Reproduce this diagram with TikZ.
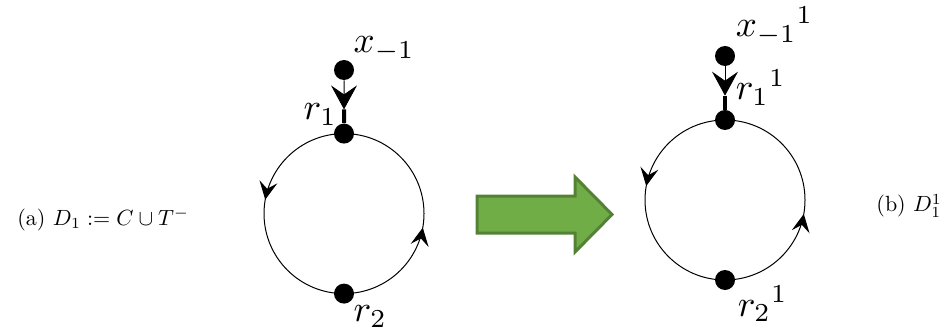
\documentclass[tikz,border=0pt]{standalone}
\usetikzlibrary{arrows.meta, calc, decorations.markings}
\definecolor{arrowgreen}{RGB}{112,173,71}
\definecolor{arrowedge}{RGB}{84,130,53}
\tikzset{
  dot/.style={circle, fill=black, inner sep=0pt, minimum size=10pt},
  lbl/.style={anchor=base west, inner sep=0pt, scale=1.85, transform shape},
  subcap/.style={anchor=base west, inner sep=0pt, scale=1.1, transform shape},
  tailtip/.style={-{Stealth[length=12pt, width=13pt, inset=4.5pt]}},
  orient/.style={postaction={decorate}, decoration={markings,
      mark=at position 0.472 with {\arrow{Stealth[length=9pt, width=9pt, inset=3.5pt]}},
      mark=at position 0.972 with {\arrow{Stealth[length=9pt, width=9pt, inset=3.5pt]}}}}
}

\begin{document}
\begin{tikzpicture}[x=20pt, y=20pt]
    \useasboundingbox (0,0) rectangle (23.5,8.3);

    % (a) vong C voi duoi T^-
    \node[subcap] (capa) at (0.425,2.675) {(a) $D_1 := C \cup T^-$};
    \coordinate (ca) at (8.6,2.96);
    \draw[line width=0.5pt, orient] (ca) circle (2);
    \node[dot] (ra1) at (8.6,4.96) {};
    \node[dot] (ra2) at (8.6,0.96) {};
    \node[dot] (xa) at (8.6,6.55) {};
    \coordinate (ma) at ($(xa)!0.62!(ra1)$);
    \draw[line width=0.5pt, tailtip] (xa) -- (ma);
    \draw[line width=2pt] (ma) -- (ra1);
    \node[lbl] (lxa) at (8.825,6.975) {$x_{-1}$};
    \node[lbl] (lra1) at (7.575,5.3) {$r_1$};
    \node[lbl] (lra2) at (8.825,0.26) {$r_2$};

    % mui ten xanh
    \draw[line width=1.5pt, fill=arrowgreen, draw=arrowedge]
        (11.925,3.4) -- (14.375,3.4) -- (14.375,3.875) -- (15.3,2.9375)
        -- (14.375,2.0) -- (14.375,2.475) -- (11.925,2.475) -- cycle;

    % (b) sau buoc 1
    \coordinate (cb) at (18.125,3.3);
    \draw[line width=0.5pt, orient] (cb) circle (2);
    \node[dot] (rb1) at (18.125,5.3) {};
    \node[dot] (rb2) at (18.125,1.3) {};
    \node[dot] (xb) at (18.125,6.9) {};
    \coordinate (mb) at ($(xb)!0.62!(rb1)$);
    \draw[line width=0.5pt, tailtip] (xb) -- (mb);
    \draw[line width=2pt] (mb) -- (rb1);
    \node[lbl] (lxb) at (18.375,7.375) {${x_{-1}}^1$};
    \node[lbl] (lrb1) at (18.375,5.8) {${r_1}^1$};
    \node[lbl] (lrb2) at (18.425,0.4) {${r_2}^1$};
    \node[subcap] (capb) at (21.9,3.0) {(b) $D_1^1$};

\end{tikzpicture}
\end{document}
